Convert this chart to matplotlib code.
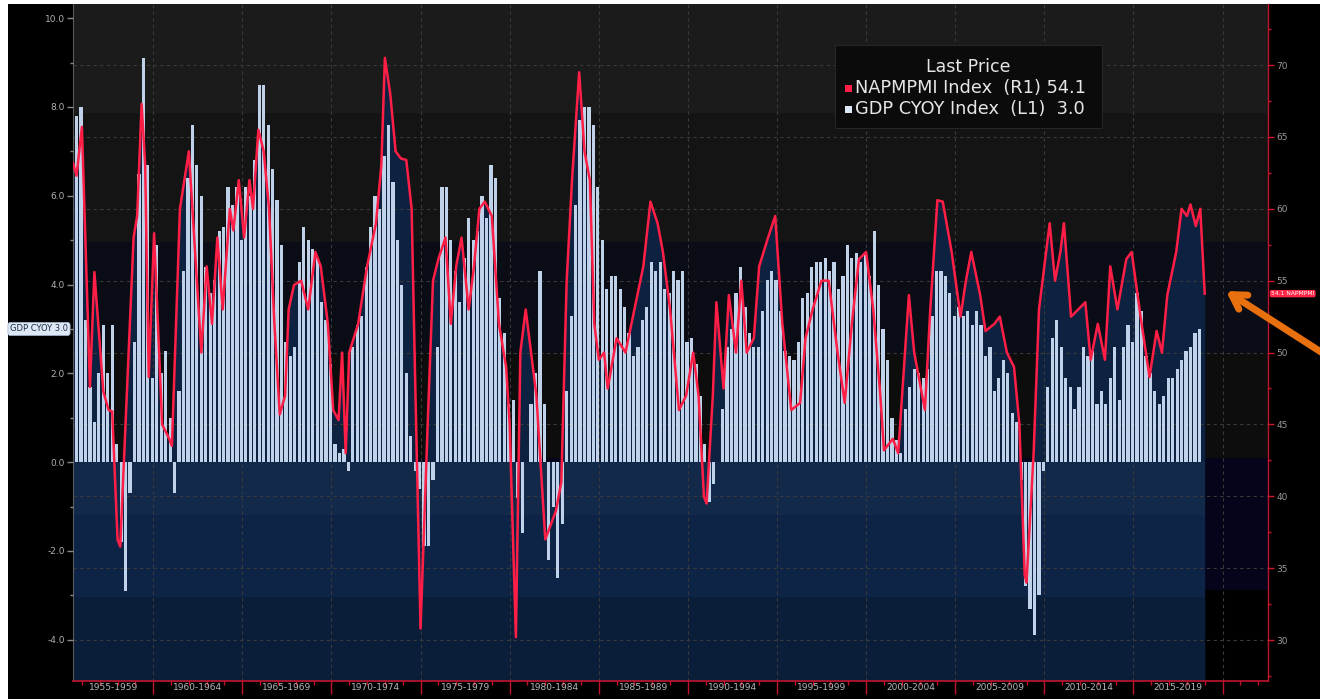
import numpy as np
import pandas as pd
import matplotlib
matplotlib.use("Agg")
import matplotlib.pyplot as plt
from matplotlib.patches import Rectangle, FancyArrowPatch
import matplotlib.transforms as mtransforms

# ---------------- DATA ----------------
gdp_quarters = pd.period_range("1955Q3", "2018Q3", freq="Q")
gdp_yoy = [
    7.8, 8.0,
    3.2, 1.7, 0.9, 2.0,
    3.1, 2.0, 3.1, 0.4,
    -1.8, -2.9, -0.7, 2.7,
    6.5, 9.1, 6.7, 1.9,
    4.9, 2.0, 2.5, 1.0,
    -0.7, 1.6, 4.3, 6.4,
    7.6, 6.7, 6.0, 4.4,
    3.8, 4.1, 5.2, 5.3,
    6.2, 5.8, 6.2, 5.0,
    6.2, 6.0, 6.8, 8.5,
    8.5, 7.6, 6.6, 5.9,
    4.9, 2.7, 2.4, 2.6,
    4.5, 5.3, 5.0, 4.8,
    4.6, 3.6, 3.2, 2.2,
    0.4, 0.2, 0.3, -0.2,
    2.6, 3.1, 3.3, 4.4,
    5.3, 6.0, 5.7, 6.9,
    7.6, 6.3, 5.0, 4.0,
    2.0, 0.6, -0.2, -0.6,
    -1.9, -1.9, -0.4, 2.6,
    6.2, 6.2, 5.0, 4.3,
    3.6, 4.6, 5.5, 5.0,
    5.2, 6.0, 5.5, 6.7,
    6.4, 3.7, 2.9, 1.3,
    1.4, -0.8, -1.6, -0.0,
    1.3, 2.0, 4.3, 1.3,
    -2.2, -1.0, -2.6, -1.4,
    1.6, 3.3, 5.8, 7.7,
    8.0, 8.0, 7.6, 6.2,
    5.0, 3.9, 4.2, 4.2,
    3.9, 3.5, 2.9, 2.4,
    2.6, 3.2, 3.5, 4.5,
    4.3, 4.5, 3.9, 3.8,
    4.3, 4.1, 4.3, 2.7,
    2.8, 2.2, 1.5, 0.4,
    -0.9, -0.5, 0.0, 1.2,
    2.6, 3.0, 3.8, 4.4,
    3.5, 2.9, 2.6, 2.6,
    3.4, 4.1, 4.3, 4.1,
    3.4, 2.5, 2.4, 2.3,
    2.7, 3.7, 3.8, 4.4,
    4.5, 4.5, 4.6, 4.3,
    4.5, 3.9, 4.2, 4.9,
    4.6, 4.7, 4.5, 4.7,
    4.2, 5.2, 4.0, 3.0,
    2.3, 1.0, 0.5, 0.2,
    1.2, 1.7, 2.1, 2.0,
    1.9, 2.1, 3.3, 4.3,
    4.3, 4.2, 3.8, 3.3,
    3.5, 3.3, 3.4, 3.1,
    3.4, 3.1, 2.4, 2.6,
    1.6, 1.9, 2.3, 2.0,
    1.1, 0.9, -0.4, -2.8,
    -3.3, -3.9, -3.0, -0.2,
    1.7, 2.8, 3.2, 2.6,
    1.9, 1.7, 1.2, 1.7,
    2.6, 2.4, 2.5, 1.3,
    1.6, 1.3, 1.9, 2.6,
    1.4, 2.6, 3.1, 2.7,
    3.8, 3.4, 2.4, 2.0,
    1.6, 1.3, 1.5, 1.9,
    1.9, 2.1, 2.3, 2.5,
    2.6, 2.9, 3.0,
]

pmi_dates = [
    1955.5, 1955.7, 1956.0, 1956.45, 1956.7, 1957.2, 1957.5, 1957.7, 1958.0, 1958.15,
    1958.9, 1959.1, 1959.35, 1959.55, 1959.75, 1960.05, 1960.5, 1960.9, 1961.05, 1961.5,
    1961.75, 1962.0, 1962.3, 1962.7, 1963.0, 1963.3, 1963.6, 1963.9, 1964.3, 1964.5,
    1964.8, 1965.1, 1965.4, 1965.6, 1965.9, 1966.2, 1966.5, 1966.8, 1967.1, 1967.4,
    1967.6, 1967.9, 1968.3, 1968.7, 1969.1, 1969.4, 1969.8, 1970.1, 1970.4, 1970.6,
    1970.8, 1971.0, 1971.5, 1972.0, 1972.5, 1972.8, 1973.0, 1973.3, 1973.6, 1973.9,
    1974.2, 1974.5, 1974.7, 1975.0, 1975.4, 1975.7, 1976.0, 1976.4, 1976.7, 1977.0,
    1977.3, 1977.7, 1978.0, 1978.3, 1978.6, 1979.0, 1979.4, 1979.8, 1980.0, 1980.35,
    1980.6, 1980.9, 1981.2, 1981.5, 1982.0, 1982.3, 1982.6, 1982.9, 1983.2, 1983.5,
    1983.9, 1984.2, 1984.5, 1984.75, 1985.0, 1985.3, 1985.5, 1986.0, 1986.5, 1987.0,
    1987.5, 1987.9, 1988.3, 1988.6, 1989.0, 1989.5, 1989.9, 1990.3, 1990.6, 1990.9,
    1991.05, 1991.4, 1991.6, 1992.0, 1992.3, 1992.7, 1993.0, 1993.3, 1993.7, 1994.0,
    1994.5, 1994.9, 1995.3, 1995.8, 1996.3, 1996.6, 1997.0, 1997.5, 1997.9, 1998.4,
    1998.8, 1999.2, 1999.6, 2000.0, 2000.4, 2000.8, 2001.0, 2001.5, 2001.8, 2002.4,
    2002.7, 2003.3, 2003.6, 2004.0, 2004.3, 2004.8, 2005.3, 2005.6, 2005.9, 2006.4,
    2006.7, 2007.2, 2007.5, 2007.9, 2008.3, 2008.6, 2008.9, 2009.0, 2009.4, 2009.7,
    2010.0, 2010.3, 2010.6, 2010.9, 2011.1, 2011.5, 2011.9, 2012.3, 2012.6, 2013.0,
    2013.4, 2013.7, 2014.1, 2014.6, 2014.9, 2015.4, 2015.9, 2016.3, 2016.6, 2016.9,
    2017.4, 2017.7, 2018.0, 2018.2, 2018.5, 2018.75, 2019.0,
]
pmi_values = [
    63.2, 62.3, 65.7, 47.6, 55.6, 47.3, 46.0, 45.9, 37.0, 36.5,
    58.0, 59.5, 67.3, 63.0, 48.3, 58.3, 45.0, 44.0, 43.5, 60.0,
    62.0, 64.0, 58.0, 50.0, 56.0, 52.0, 58.0, 53.0, 60.0, 58.5,
    62.0, 58.0, 62.0, 60.0, 65.5, 64.0, 60.0, 52.0, 45.7, 47.0,
    53.0, 54.7, 55.0, 53.0, 57.0, 56.0, 52.0, 46.0, 45.3, 50.0,
    43.0, 50.0, 52.0, 56.0, 59.0, 63.0, 70.5, 68.0, 64.0, 63.5,
    63.4, 60.0, 48.0, 30.8, 45.0, 55.0, 56.5, 58.0, 52.0, 56.0,
    58.0, 53.0, 56.0, 60.0, 60.5, 59.5, 52.0, 49.0, 45.0, 30.2,
    50.0, 53.0, 50.0, 47.0, 37.0, 38.0, 39.0, 41.0, 55.0, 62.0,
    69.5, 64.0, 62.0, 52.0, 49.5, 50.0, 47.5, 51.0, 50.0, 53.0,
    56.0, 60.5, 59.0, 57.0, 53.0, 46.0, 47.0, 50.0, 47.0, 40.0,
    39.5, 47.0, 53.5, 47.5, 54.0, 50.0, 55.0, 50.0, 51.0, 56.0,
    58.0, 59.5, 52.0, 46.0, 46.5, 51.0, 53.0, 55.0, 55.0, 50.0,
    46.5, 52.0, 56.5, 57.0, 53.0, 47.0, 43.2, 44.0, 43.0, 54.0,
    50.0, 46.0, 53.0, 60.6, 60.5, 57.0, 52.5, 55.0, 57.0, 54.0,
    51.5, 52.0, 52.5, 50.0, 49.0, 45.0, 34.5, 34.0, 43.0, 53.0,
    56.0, 59.0, 55.0, 57.0, 59.0, 52.5, 53.0, 53.5, 49.5, 52.0,
    49.5, 56.0, 53.0, 56.5, 57.0, 52.5, 48.3, 51.5, 50.0, 54.0,
    57.0, 60.0, 59.5, 60.3, 58.8, 60.0, 54.1,
]

period_labels = ["1955-1959", "1960-1964", "1965-1969", "1970-1974", "1975-1979",
                 "1980-1984", "1985-1989", "1990-1994", "1995-1999", "2000-2004",
                 "2005-2009", "2010-2014", "2015-2019"]
gdp_ticks = [-4, -2, 0, 2, 4, 6, 8, 10]
pmi_ticks = [30, 35, 40, 45, 50, 55, 60, 65, 70]

# ---------------- FIGURE ----------------
W, H = 1320, 699
fig = plt.figure(figsize=(W / 100, H / 100), dpi=100)
fig.patch.set_facecolor("white")
fig.add_artist(Rectangle((8 / W, 0), 1 - 8 / W, 1 - 4 / H, transform=fig.transFigure,
                         facecolor="black", edgecolor="none", zorder=0))

pos = [73 / W, 1 - 681 / H, (1268 - 73) / W, (681 - 4) / H]
axp = fig.add_axes(pos)                 # right axis (PMI), bottom layer
ax = fig.add_axes(pos, sharex=axp)      # left axis (GDP), bars
axl = fig.add_axes(pos, sharex=axp)     # PMI line on top
axp.set_zorder(1); ax.set_zorder(2); axl.set_zorder(3)
ax.patch.set_visible(False); axl.patch.set_visible(False)
axp.set_facecolor("black")

XMIN, XMAX = 1955.5, 2022.55
PMIN, PMAX = 27.15, 74.25
GMIN, GMAX = -4.93, 10.32
axp.set_xlim(XMIN, XMAX)
axp.set_ylim(PMIN, PMAX); axl.set_ylim(PMIN, PMAX)
ax.set_ylim(GMIN, GMAX)

# background shading bands (PMI units)
band_edges = [PMAX, 66.66, 57.69, 49.97, 42.66, 33.48, PMIN]
band_cols = ["#1b1b1b", "#141414", "#0a0c16", "#0d0d0d", "#04041a", "#000000"]
for top, bot, c in zip(band_edges[:-1], band_edges[1:], band_cols):
    axp.axhspan(bot, top, color=c, lw=0, zorder=0.5)

gdp_x = np.array([p.year + (p.quarter - 1) / 4 + 0.2 for p in gdp_quarters])
data_end = pmi_dates[-1]

# PMI area fill
axp.fill_between(pmi_dates, pmi_values, PMIN, color="#0d2240", lw=0, zorder=1)

# below-zero navy zones (GDP units)
for top, bot, c in [(0, -1.19, "#12294a"), (-1.19, -3.04, "#0e2446"), (-3.04, GMIN, "#0a1e3a")]:
    axp.add_patch(Rectangle((XMIN, bot), data_end - XMIN, top - bot, transform=ax.transData,
                            facecolor=c, edgecolor="none", zorder=1.2))

# grid
for v in pmi_ticks:
    axp.axhline(v, color="#3a3a3a", lw=0.8, ls=(0, (3, 3)), zorder=2)
for yr in range(1960, 2025, 5):
    axp.axvline(yr, color="#3a3a3a", lw=0.8, ls=(0, (3, 3)), zorder=2)

# bars
ax.bar(gdp_x, gdp_yoy, width=0.18, color="#c0d2e9", lw=0, zorder=3)

# PMI line
axl.plot(pmi_dates, pmi_values, color="#ff1e46", lw=1.8, solid_joinstyle="round", zorder=4)

# ---------- axes styling ----------
for a in (ax, axl):
    for s in a.spines.values():
        s.set_visible(False)
    a.tick_params(axis="x", which="both", bottom=False, labelbottom=False)
axl.set_yticks([])

axp.spines["top"].set_visible(False)
axp.spines["left"].set_color("#5a5a5a")
axp.spines["right"].set_color("#c0142e")
axp.spines["bottom"].set_color("#c0142e")
axp.spines["right"].set_linewidth(1.0)
axp.spines["bottom"].set_linewidth(1.2)

axp.yaxis.tick_right()
axp.set_yticks(pmi_ticks)
axp.set_yticklabels([str(t) for t in pmi_ticks])
axp.set_yticks([t + 2.5 for t in [25] + pmi_ticks if PMIN < t + 2.5 < PMAX], minor=True)
axp.tick_params(axis="y", which="major", colors="#d0142e", length=4, width=1,
                labelcolor="#9a9a9a", labelsize=6.5, pad=2)
axp.tick_params(axis="y", which="minor", colors="#d0142e", length=2.5, width=1)

axp.set_xticks(list(range(1960, 2025, 5)))
axp.set_xticks([y for y in range(1956, 2023)], minor=True)
axp.tick_params(axis="x", which="major", colors="#c0142e", length=9, width=1,
                labelbottom=False)
axp.tick_params(axis="x", which="minor", colors="#c0142e", length=3, width=1)

ax.set_yticks(gdp_ticks)
ax.set_yticklabels(["%.1f" % t for t in gdp_ticks])
ax.set_yticks([t for t in range(-4, 11) if t % 2], minor=True)
ax.tick_params(axis="y", which="major", colors="#8a8a8a", length=4, width=1,
               labelcolor="#b0b0b0", labelsize=6.5, pad=2)
ax.tick_params(axis="y", which="minor", colors="#8a8a8a", length=2.5, width=1)

# period labels centred in visible part of each 5-year span
btrans = mtransforms.blended_transform_factory(axp.transData, axp.transAxes)
for i, lab in enumerate(period_labels):
    start = 1955 + 5 * i
    c = (max(start, XMIN) + min(start + 5, XMAX)) / 2
    axp.text(c, -0.009, lab, transform=btrans, ha="center", va="center",
             fontsize=6.5, color="#b8b8b8", clip_on=False)

# last-value tags
ltrans = mtransforms.blended_transform_factory(fig.transFigure, ax.transData)
fig.text(39 / W, gdp_yoy[-1], "GDP CYOY %.1f" % gdp_yoy[-1], transform=ltrans,
         ha="center", va="center", fontsize=6, color="#1b2c48",
         bbox=dict(boxstyle="round,pad=0.25,rounding_size=0.3", fc="#dde8f4", ec="#9fb6d0", lw=0.5))
rtrans = mtransforms.blended_transform_factory(fig.transFigure, axp.transData)
fig.text(1271 / W, pmi_values[-1], "%.1f NAPMPMI" % pmi_values[-1], transform=rtrans,
         ha="left", va="center", fontsize=4.3, color="white",
         bbox=dict(boxstyle="round,pad=0.2,rounding_size=0.3", fc="#ff2648", ec="none"))

# legend box
fig.add_artist(Rectangle((835 / W, 1 - 128 / H), (1102 - 835) / W, (128 - 45) / H,
                         transform=fig.transFigure, facecolor="#0b0b0b",
                         edgecolor="#262626", lw=0.8, zorder=5))
fig.text(968 / W, 1 - 67 / H, "Last Price", ha="center", va="center",
         fontsize=12.5, color="#e6e6e6", zorder=6)
fig.add_artist(Rectangle((845 / W, 1 - 92 / H), 7 / W, 7 / H, transform=fig.transFigure,
                         facecolor="#ff1e46", edgecolor="none", zorder=6))
fig.add_artist(Rectangle((845 / W, 1 - 113 / H), 7 / W, 7 / H, transform=fig.transFigure,
                         facecolor="#dce8f8", edgecolor="none", zorder=6))
fig.text(855 / W, 1 - 88 / H, "NAPMPMI Index  (R1) %.1f" % pmi_values[-1], ha="left",
         va="center", fontsize=12.8, color="#e6e6e6", zorder=6)
fig.text(855 / W, 1 - 109 / H, "GDP CYOY Index  (L1)  %.1f" % gdp_yoy[-1], ha="left",
         va="center", fontsize=12.8, color="#e6e6e6", zorder=6)

# orange annotation arrow
fig.add_artist(FancyArrowPatch(
    (1335 / W, 1 - 361 / H), (1226 / W, 1 - 291 / H), transform=fig.transFigure,
    arrowstyle="->,head_length=10,head_width=6", color="#e8700f", lw=5,
    shrinkA=0, shrinkB=0, zorder=7, capstyle="round", joinstyle="round"))

fig.savefig("out.png", dpi=100, facecolor=fig.get_facecolor())
